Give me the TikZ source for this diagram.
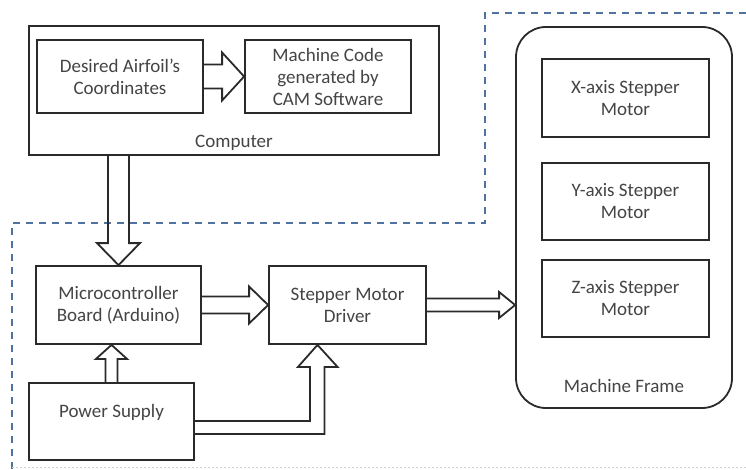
\documentclass[tikz,border=0pt]{standalone}
\usepackage{fontspec}
\setmainfont{Carlito}
\usetikzlibrary{calc,positioning}
\definecolor{boxline}{HTML}{2A2A2A}
\definecolor{boxtext}{HTML}{444444}
\definecolor{dashblue}{HTML}{4F72A0}

\begin{document}
\begin{tikzpicture}[x=1pt,y=1pt,
    block/.style={draw=boxline,line width=1.8pt,text=boxtext,align=center,
      font=\fontsize{19}{22}\selectfont,inner sep=2pt},
    labeltext/.style={text=boxtext,font=\fontsize{19}{22}\selectfont},
    hollow/.style n args={3}{draw=boxline,line width=1.8pt,to path={
      ($(\tikztostart)!#1!90:(\tikztotarget)$)
      -- ($($(\tikztotarget)!#3!(\tikztostart)$)!#1!-90:(\tikztostart)$)
      -- ($($(\tikztotarget)!#3!(\tikztostart)$)!#2!-90:(\tikztostart)$)
      -- (\tikztotarget)
      -- ($($(\tikztotarget)!#3!(\tikztostart)$)!#2!90:(\tikztostart)$)
      -- ($($(\tikztotarget)!#3!(\tikztostart)$)!#1!90:(\tikztostart)$)
      -- ($(\tikztostart)!#1!-90:(\tikztotarget)$)}}]
  \useasboundingbox (0,0) rectangle (746,469);
  \draw[dashblue,line width=2.2pt,dash pattern=on 7pt off 6pt]
    (12,0) -- (12,246) -- (485,246) -- (485,456) -- (746,456);
  \draw[gray!35,line width=1pt,dash pattern=on 2pt off 2pt] (12,2) -- (746,2);

  \node[block,minimum width=410,minimum height=129] (comp) at (234,378.5) {};
  \node[block,minimum width=166,minimum height=73] (airfoil) at (120,392.5) {Desired Airfoil’s\\Coordinates};
  \node[block,minimum width=166,minimum height=73] (mcode) at (328,392.5) {Machine Code\\generated by\\CAM Software};
  \node[labeltext] (complabel) at ([yshift=13pt]comp.south) {Computer};

  \node[block,minimum width=165,minimum height=78] (micro) at (118.5,164) {Microcontroller\\Board (Arduino)};
  \node[block,minimum width=157,minimum height=78] (driver) at (347.5,164) {Stepper Motor\\Driver};
  \node[block,minimum width=165,minimum height=77] (power) at (111.5,47.5) {};
  \node[labeltext] (pslabel) at ([yshift=9.5pt]power.center) {Power Supply};

  \node[block,rounded corners=30pt,minimum width=216,minimum height=381] (frame) at (624,251.5) {};
  \node[block,minimum width=167,minimum height=78] (xmot) at (625.5,371) {X-axis Stepper\\Motor};
  \node[block,minimum width=167,minimum height=77] (ymot) at (625.5,267.5) {Y-axis Stepper\\Motor};
  \node[block,minimum width=167,minimum height=77] (zmot) at (625.5,170.5) {Z-axis Stepper\\Motor};
  \node[labeltext] (framelabel) at ([yshift=23pt]frame.south) {Machine Frame};

  \coordinate (cdown) at (micro.north |- comp.south);
  \coordinate (pup) at (power.north |- micro.south);
  \coordinate (fin) at (driver.east -| frame.west);
  \coordinate (ptip) at ([xshift=-30pt]driver.south);

  \draw[hollow={12pt}{24pt}{22pt}] (airfoil.east) to (mcode.west);
  \draw[hollow={10.5pt}{21.5pt}{22pt}] (cdown) to (micro.north);
  \draw[hollow={8.5pt}{18.5pt}{19pt}] (micro.east) to (driver.west);
  \draw[hollow={6.5pt}{13pt}{16pt}] (driver.east) to (fin);
  \draw[hollow={6pt}{15.5pt}{14pt}] (power.north) to (pup);
  \draw[draw=boxline,line width=1.8pt] ([yshift=0.5pt]power.east) -| ([xshift=-7.5pt,yshift=-22pt]ptip)
    -- ++(-12pt,0) -- (ptip) -- ++(20pt,-22pt) -- ++(-13pt,0) |- ([yshift=-12.5pt]power.east);
\end{tikzpicture}
\end{document}
